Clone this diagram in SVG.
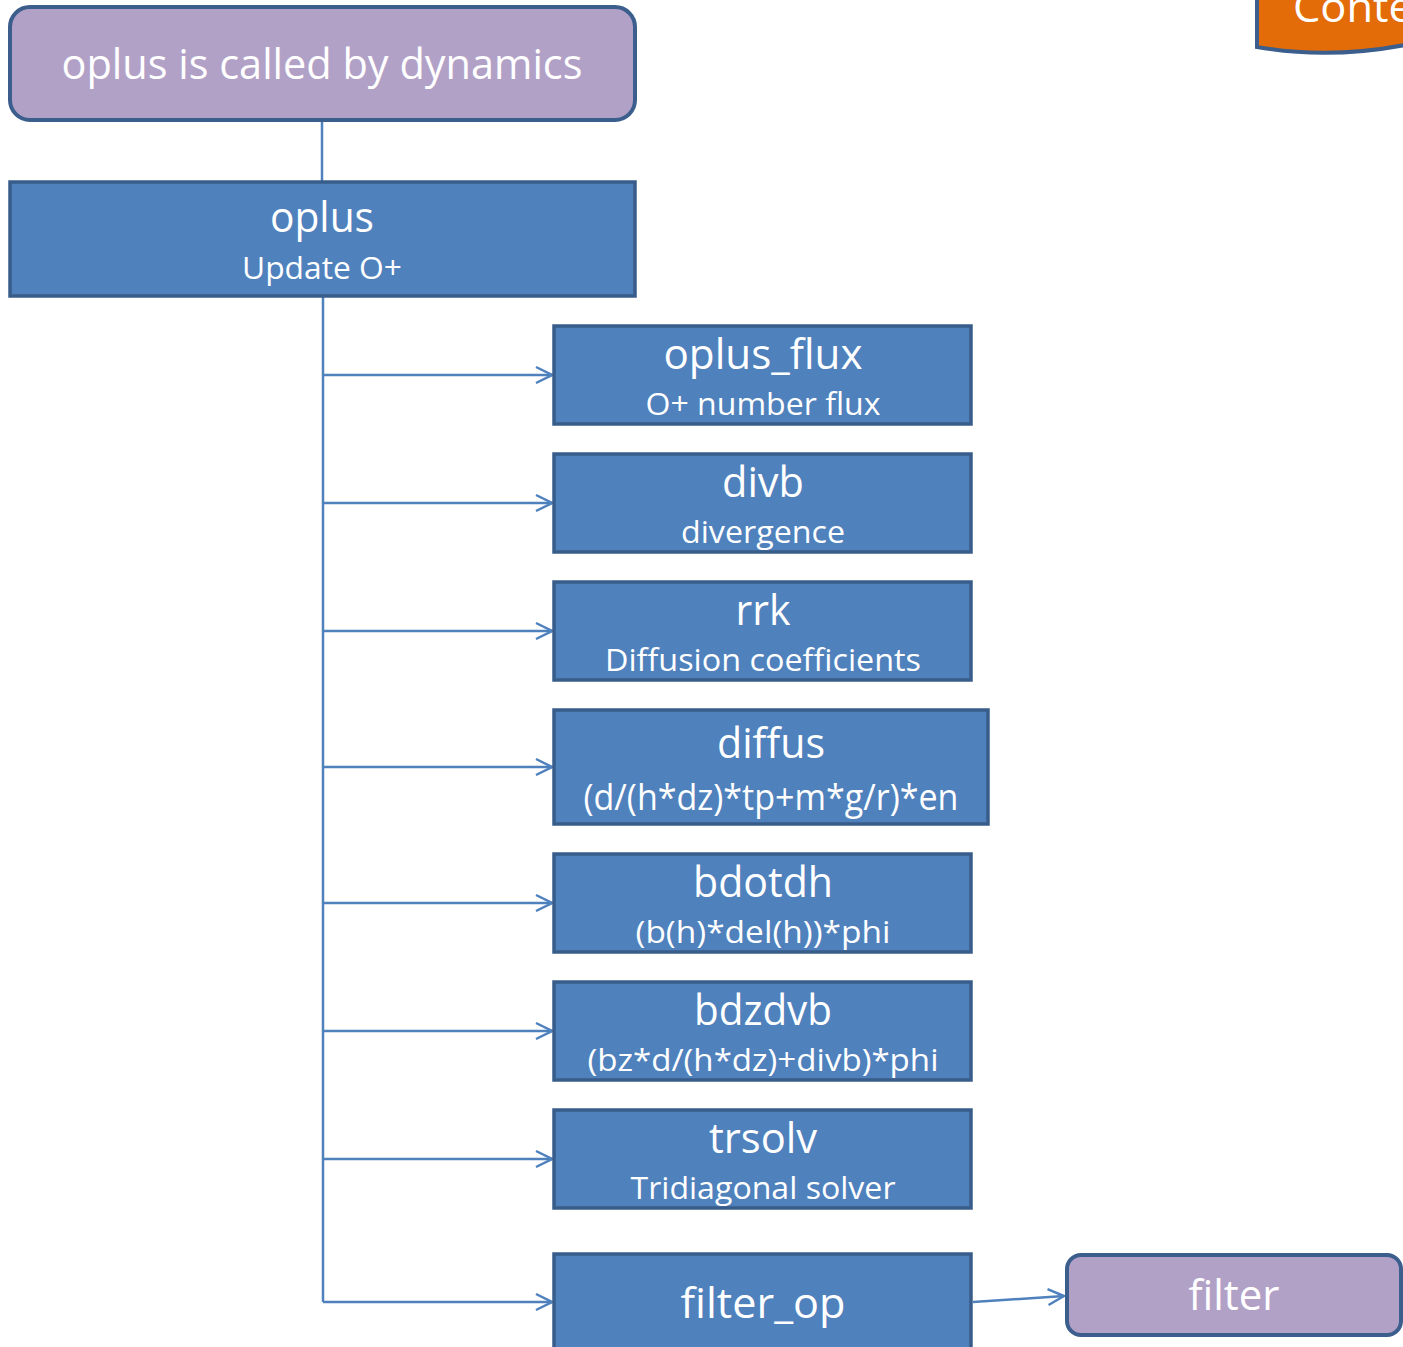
<svg xmlns="http://www.w3.org/2000/svg" width="1403" height="1347" viewBox="0 0 1403 1347">
<style>
.blue{fill:#4F81BD;stroke:#385D8A;stroke-width:3.5}
.purple{fill:#B2A1C7;stroke:#3B5E8D;stroke-width:4}
.t{font-family:"Open Sans","Liberation Sans",sans-serif;fill:#FFFFFF;text-anchor:middle}
.big{font-size:42px}
.sub{font-size:31px}
.conn{stroke:#4F81BD;stroke-width:2.5;fill:none}
</style>
<defs>
<marker id="arr" markerWidth="20" markerHeight="20" refX="18" refY="10" orient="auto" markerUnits="userSpaceOnUse">
<path d="M2,2 L18,10 L2,18" fill="none" stroke="#4F81BD" stroke-width="2.5"/>
</marker>
</defs>
<g id="context">
<path d="M1257,-5 L1410,-5 L1410,44 Q1330,60 1257,47 Z" fill="#E36C09" stroke="#3B5E8D" stroke-width="4"/>
<text class="t big" x="1293" y="22" style="text-anchor:start" textLength="120" lengthAdjust="spacingAndGlyphs">Conte</text>
</g>
<g id="connectors">
<line class="conn" x1="322" y1="120" x2="322" y2="182"/>
<line class="conn" x1="323" y1="296" x2="323" y2="1302"/>
<line class="conn" x1="323" y1="375" x2="552" y2="375" marker-end="url(#arr)"/>
<line class="conn" x1="323" y1="503" x2="552" y2="503" marker-end="url(#arr)"/>
<line class="conn" x1="323" y1="631" x2="552" y2="631" marker-end="url(#arr)"/>
<line class="conn" x1="323" y1="767" x2="552" y2="767" marker-end="url(#arr)"/>
<line class="conn" x1="323" y1="903" x2="552" y2="903" marker-end="url(#arr)"/>
<line class="conn" x1="323" y1="1031" x2="552" y2="1031" marker-end="url(#arr)"/>
<line class="conn" x1="323" y1="1159" x2="552" y2="1159" marker-end="url(#arr)"/>
<line class="conn" x1="323" y1="1302" x2="552" y2="1302" marker-end="url(#arr)"/>
<line class="conn" x1="973" y1="1302" x2="1064" y2="1296" marker-end="url(#arr)"/>
</g>
<g id="dynamics">
<rect class="purple" x="10" y="7" width="625" height="113" rx="20"/>
<text class="t big" x="322" y="79" textLength="521" lengthAdjust="spacingAndGlyphs">oplus is called by dynamics</text>
</g>
<g id="oplus">
<rect class="blue" x="10" y="182" width="625" height="114"/>
<text class="t big" x="322" y="232" textLength="104" lengthAdjust="spacingAndGlyphs">oplus</text>
<text class="t sub" x="322" y="279" textLength="160" lengthAdjust="spacingAndGlyphs">Update O+</text>
</g>
<g id="oplus_flux">
<rect class="blue" x="554" y="326" width="417" height="98"/>
<text class="t big" x="763" y="369" textLength="199" lengthAdjust="spacingAndGlyphs">oplus_flux</text>
<text class="t sub" x="763" y="415" textLength="235" lengthAdjust="spacingAndGlyphs">O+ number flux</text>
</g>
<g id="divb">
<rect class="blue" x="554" y="454" width="417" height="98"/>
<text class="t big" x="763" y="497" textLength="82" lengthAdjust="spacingAndGlyphs">divb</text>
<text class="t sub" x="763" y="543" textLength="164" lengthAdjust="spacingAndGlyphs">divergence</text>
</g>
<g id="rrk">
<rect class="blue" x="554" y="582" width="417" height="98"/>
<text class="t big" x="763" y="625" textLength="55" lengthAdjust="spacingAndGlyphs">rrk</text>
<text class="t sub" x="763" y="671" textLength="316" lengthAdjust="spacingAndGlyphs">Diffusion coefficients</text>
</g>
<g id="diffus">
<rect class="blue" x="554" y="710" width="434" height="114"/>
<text class="t big" x="771" y="758" textLength="108" lengthAdjust="spacingAndGlyphs">diffus</text>
<text class="t" style="font-size:37px" x="771" y="810" textLength="375" lengthAdjust="spacingAndGlyphs">(d/(h*dz)*tp+m*g/r)*en</text>
</g>
<g id="bdotdh">
<rect class="blue" x="554" y="854" width="417" height="98"/>
<text class="t big" x="763" y="897" textLength="140" lengthAdjust="spacingAndGlyphs">bdotdh</text>
<text class="t sub" x="763" y="943" textLength="255" lengthAdjust="spacingAndGlyphs">(b(h)*del(h))*phi</text>
</g>
<g id="bdzdvb">
<rect class="blue" x="554" y="982" width="417" height="98"/>
<text class="t big" x="763" y="1025" textLength="138" lengthAdjust="spacingAndGlyphs">bdzdvb</text>
<text class="t sub" x="763" y="1071" textLength="351" lengthAdjust="spacingAndGlyphs">(bz*d/(h*dz)+divb)*phi</text>
</g>
<g id="trsolv">
<rect class="blue" x="554" y="1110" width="417" height="98"/>
<text class="t big" x="763" y="1153" textLength="108" lengthAdjust="spacingAndGlyphs">trsolv</text>
<text class="t sub" x="763" y="1199" textLength="265" lengthAdjust="spacingAndGlyphs">Tridiagonal solver</text>
</g>
<g id="filter_op">
<rect class="blue" x="554" y="1254" width="417" height="110"/>
<text class="t big" x="763" y="1318" textLength="165" lengthAdjust="spacingAndGlyphs">filter_op</text>
</g>
<g id="filter">
<rect class="purple" x="1067" y="1255" width="334" height="80" rx="14"/>
<text class="t big" x="1234" y="1310" textLength="91" lengthAdjust="spacingAndGlyphs">filter</text>
</g>
</svg>
